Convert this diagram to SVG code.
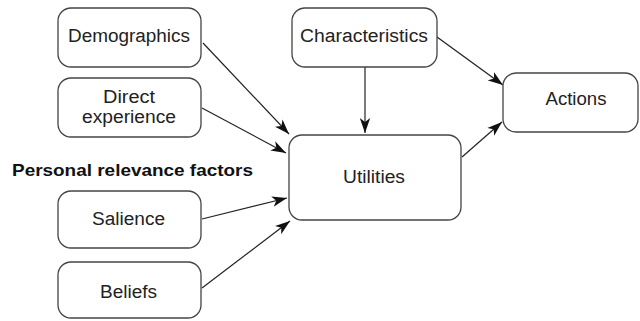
<svg xmlns="http://www.w3.org/2000/svg" width="640" height="321" viewBox="0 0 640 321">
<defs>
<style>
.box{fill:#fff;stroke:#444;stroke-width:1.3}
.t{font-family:"Liberation Sans",Arial,sans-serif;font-size:18px;fill:#222;text-anchor:middle}
.b{font-family:"Liberation Sans",Arial,sans-serif;font-size:16.5px;font-weight:bold;fill:#111}
.c{stroke:#222;stroke-width:1.2;fill:none;marker-end:url(#ah)}
</style>
<marker id="ah" markerUnits="userSpaceOnUse" markerWidth="16" markerHeight="12" viewBox="0 0 16 12" refX="15" refY="6" orient="auto">
<path d="M0,0.8 L15,6 L0,11.2 L4,6 Z" fill="#111"/>
</marker>
</defs>
<rect width="640" height="321" fill="#fff"/>
<g id="connectors">
<line class="c" x1="203" y1="43" x2="289" y2="134"/>
<line class="c" x1="202" y1="108" x2="286" y2="153"/>
<line class="c" x1="202" y1="219" x2="287" y2="198"/>
<line class="c" x1="202" y1="288" x2="290" y2="221"/>
<line class="c" x1="365" y1="67" x2="365" y2="133"/>
<line class="c" x1="437" y1="37" x2="503" y2="85"/>
<line class="c" x1="462" y1="157" x2="502" y2="122"/>
</g>
<g id="demographics">
<rect class="box" x="58" y="8" width="143" height="59" rx="13"/>
<text class="t" x="129" y="42" textLength="122" lengthAdjust="spacingAndGlyphs">Demographics</text>
</g>
<g id="direct-experience">
<rect class="box" x="58" y="78" width="143" height="59" rx="13"/>
<text class="t" x="129" y="103" textLength="52" lengthAdjust="spacingAndGlyphs">Direct</text>
<text class="t" x="129" y="123" textLength="94" lengthAdjust="spacingAndGlyphs">experience</text>
</g>
<g id="personal-relevance-label">
<text class="b" x="12" y="176" textLength="241" lengthAdjust="spacingAndGlyphs">Personal relevance factors</text>
</g>
<g id="salience">
<rect class="box" x="58" y="191" width="143" height="57" rx="13"/>
<text class="t" x="128.5" y="225" textLength="73" lengthAdjust="spacingAndGlyphs">Salience</text>
</g>
<g id="beliefs">
<rect class="box" x="58" y="262" width="143" height="56" rx="13"/>
<text class="t" x="128.5" y="298" textLength="57" lengthAdjust="spacingAndGlyphs">Beliefs</text>
</g>
<g id="characteristics">
<rect class="box" x="292" y="8" width="145" height="59" rx="13"/>
<text class="t" x="364" y="42" textLength="128" lengthAdjust="spacingAndGlyphs">Characteristics</text>
</g>
<g id="utilities">
<rect class="box" x="289" y="135" width="172" height="85" rx="13"/>
<text class="t" x="374" y="183" textLength="62" lengthAdjust="spacingAndGlyphs">Utilities</text>
</g>
<g id="actions">
<rect class="box" x="503" y="73" width="135" height="59" rx="13"/>
<text class="t" x="576" y="105" textLength="61" lengthAdjust="spacingAndGlyphs">Actions</text>
</g>
</svg>
